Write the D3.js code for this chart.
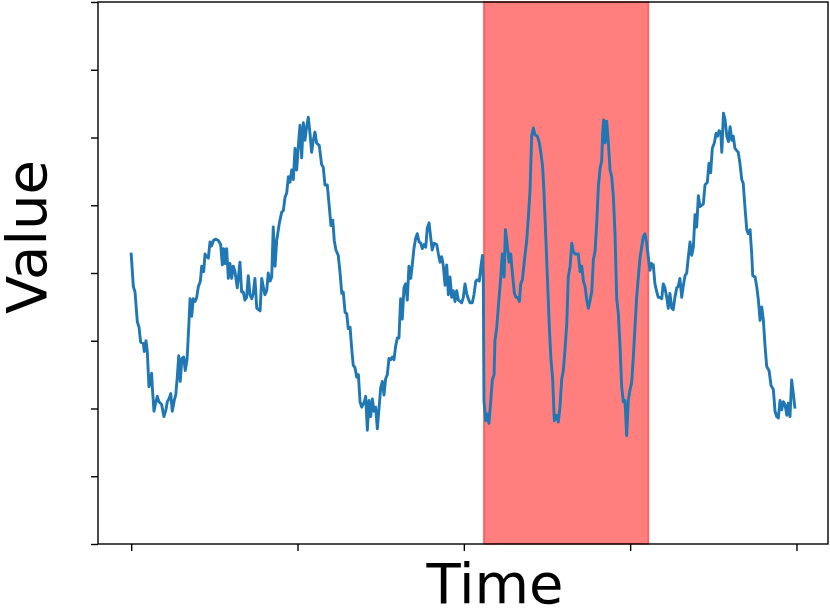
<!DOCTYPE html>
<html>
<head>
<meta charset="utf-8">
<script src="https://cdn.jsdelivr.net/npm/d3@7"></script>
<style>
  html, body { margin: 0; padding: 0; background: #fff; }
  svg { display: block; }
</style>
</head>
<body>
<svg id="chart" width="830" height="608"></svg>
<script>
// ---- Data ----
const xTicks = [0, 100, 200, 300, 400];
const yTicks = [-2, -1.5, -1, -0.5, 0, 0.5, 1, 1.5, 2];
const anomalySpan = [212, 311];
const xLabel = "Time";
const yLabel = "Value";

// [time, value]
const series = [
[0,0.14],[1.3,-0.10],[2.3,-0.14],[3.7,-0.36],[4.7,-0.40],[5.7,-0.51],[7.3,-0.52],[7.9,-0.58],[8.9,-0.50],[9.7,-0.58],
[10.7,-0.84],[12.3,-0.74],[12.7,-0.84],[13.7,-1.02],[14.7,-0.96],[15.7,-0.91],[16.7,-0.95],[18.3,-0.97],[19.7,-1.06],[20.9,-1.01],
[21.7,-0.95],[22.7,-0.93],[23.8,-0.89],[24.7,-1.02],[25.9,-0.94],[26.8,-0.90],[27.7,-0.77],[28.6,-0.61],[29.5,-0.80],[30.5,-0.63],
[31.6,-0.62],[32.5,-0.72],[33.6,-0.64],[34.6,-0.40],[35.4,-0.19],[36.4,-0.32],[37.3,-0.19],[38.4,-0.21],[39.4,-0.18],[40.4,-0.10],
[41.6,-0.06],[42.4,0.05],[43.6,0.01],[44.4,0.14],[45.4,0.12],[46.4,0.11],[47.4,0.23],[48.4,0.20],[49.4,0.24],[50.8,0.25],
[52.4,0.24],[53.8,0.21],[54.8,0.06],[55.6,0.18],[56.4,0.07],[57.4,0.18],[58.4,-0.04],[59.4,0.07],[60.4,-0.04],[61.4,0.05],
[62.4,0.01],[63.8,-0.11],[65.4,0.08],[66.4,-0.14],[67.4,-0.14],[68.4,-0.20],[69.4,-0.18],[70.4,-0.02],[71.4,-0.16],[72.5,-0.19],
[73.4,-0.15],[74.4,-0.04],[75.5,-0.26],[77.5,-0.28],[78.5,-0.04],[79.4,-0.10],[80.4,-0.16],[81.5,-0.13],[82.4,0.00],[83.5,-0.06],
[84.5,-0.03],[85.4,0.34],[86.5,0.05],[87.5,0.24],[89.1,0.37],[90.5,0.45],[91.5,0.46],[92.5,0.56],[93.5,0.59],[94.5,0.71],
[95.5,0.67],[96.5,0.76],[97.5,0.69],[98.5,0.92],[99.5,0.76],[100.5,0.94],[101.5,1.09],[102.5,0.85],[103.5,1.11],[104.5,0.98],
[105.5,1.08],[106.5,1.15],[107.5,1.03],[108.5,0.89],[109.5,0.98],[110.5,1.04],[111.5,0.96],[113.1,0.94],[114.5,0.80],[115.5,0.78],
[116.5,0.65],[117.9,0.65],[119.1,0.49],[120.1,0.35],[121.2,0.39],[122.1,0.24],[123.1,0.17],[124.5,0.13],[125.6,0.00],[126.6,-0.15],
[127.5,-0.14],[128.6,-0.29],[129.6,-0.30],[130.5,-0.41],[131.6,-0.40],[132.6,-0.56],[133.5,-0.68],[134.6,-0.70],[135.6,-0.77],[136.6,-0.75],
[137.6,-0.95],[138.6,-0.99],[140.2,-0.95],[141,-0.91],[142,-1.16],[143,-0.94],[144,-1.06],[145,-0.93],[146,-1.02],[147,-0.99],
[148,-1.15],[149,-1.00],[150,-0.85],[151,-0.80],[152,-0.90],[153,-0.78],[154,-0.75],[155,-0.63],[156,-0.64],[157,-0.62],
[158,-0.64],[159,-0.54],[160,-0.48],[161,-0.48],[162,-0.19],[163,-0.34],[164,-0.11],[165,-0.08],[166,-0.20],[167,0.05],
[168.1,-0.04],[169,0.06],[170,0.18],[171.1,0.26],[172,0.29],[173.1,0.23],[174.1,0.22],[175,0.18],[176.1,0.21],[177.1,0.19],
[178,0.33],[179.1,0.37],[180.1,0.26],[181,0.17],[182.1,0.22],[183.7,0.21],[184.7,0.14],[185.7,0.08],[186.7,0.12],[187.7,0.05],
[188.7,-0.09],[189.7,0.06],[190.7,-0.16],[191.7,-0.03],[192.7,-0.18],[193.7,-0.13],[194.7,-0.21],[195.7,-0.13],[196.7,-0.20],[197.7,-0.21],
[198.7,-0.22],[199.7,-0.18],[200.7,-0.08],[201.7,-0.15],[202.7,-0.19],[203.7,-0.22],[205.1,-0.22],[206.1,-0.16],[207.2,-0.06],[208.1,-0.05],
[209.3,-0.06],[210.3,0.05],[211.2,0.13],[211.7,-0.05],[212.1,-0.94],[213.1,-1.09],[214.1,-1.04],[215.1,-1.11],[216.2,-0.94],[217.1,-0.79],
[218.2,-0.75],[218.7,-0.50],[219.8,-0.40],[221.2,-0.18],[222.2,-0.03],[223.1,0.14],[224.2,-0.03],[225,0.32],[225.8,0.24],[227.2,0.08],
[228.2,0.14],[229.2,0.00],[230.4,-0.15],[231.4,-0.18],[232.4,-0.18],[233.4,-0.21],[234.2,-0.08],[235.2,-0.05],[236.2,0.07],[237.8,0.24],
[238.8,0.41],[239.8,0.61],[240.8,1.01],[241.8,1.07],[242.8,1.02],[244.2,1.01],[245.4,0.96],[246.4,0.88],[247.4,0.78],[248.2,0.59],
[249.2,0.29],[250.4,-0.08],[251.4,-0.40],[252.4,-0.64],[253.4,-0.78],[254.4,-1.09],[255.8,-1.05],[256.8,-1.10],[257.8,-0.99],[258.8,-0.79],
[259.8,-0.72],[260.8,-0.57],[261.9,-0.37],[262.8,-0.03],[263.9,0.05],[264.9,0.22],[265.8,0.16],[266.8,0.14],[268.8,0.14],[269.9,0.01],
[270.9,0.05],[271.9,-0.06],[272.9,-0.10],[273.9,-0.20],[274.9,-0.26],[275.9,-0.20],[276.9,-0.14],[277.9,0.10],[278.9,0.16],[279.9,0.37],
[280.9,0.64],[281.9,0.77],[282.9,0.83],[283.5,1.04],[284.1,1.13],[284.9,0.96],[285.9,1.12],[286.9,0.96],[287.9,0.76],[288.9,0.71],
[289.9,0.56],[290.9,0.29],[291.9,-0.19],[292.9,-0.30],[293.9,-0.54],[294.9,-0.84],[295.9,-0.95],[296.9,-0.94],[297.9,-1.20],[298.9,-0.94],
[299.9,-0.86],[300.9,-0.81],[301.9,-0.62],[302.9,-0.40],[303.9,-0.18],[304.9,-0.03],[305.9,0.11],[306.9,0.19],[307.9,0.27],[308.9,0.29],
[309.9,0.22],[310.9,0.12],[311.9,0.02],[312.9,0.07],[313.9,0.06],[314.9,-0.08],[316,-0.14],[316.9,-0.18],[317.9,-0.18],[319,-0.19],
[319.9,-0.08],[320.9,-0.11],[322,-0.18],[322.9,-0.26],[323.9,-0.15],[325,-0.26],[325.9,-0.27],[326.9,-0.18],[328,-0.11],[328.9,-0.10],
[329.9,-0.04],[331,-0.18],[332,-0.09],[333,-0.02],[334,0.00],[335,0.12],[336,0.23],[337,0.13],[338,0.19],[339,0.43],
[340,0.34],[341,0.57],[342,0.49],[344,0.51],[345,0.65],[346.4,0.67],[347.4,0.81],[348.4,0.74],[349.4,0.92],[350.6,0.96],
[351.6,1.03],[352.6,1.01],[353.4,1.05],[354.5,1.04],[355.1,0.89],[356.1,1.18],[357.1,1.13],[358.1,1.01],[359.1,0.97],[360.1,1.08],
[361.1,0.98],[362,1.01],[363,0.92],[365,0.89],[366,0.81],[367.1,0.69],[368,0.66],[369,0.49],[370.1,0.32],[371,0.29],
[372.1,0.32],[373.1,0.14],[373.7,-0.02],[375.1,-0.03],[376.1,-0.10],[377.1,-0.20],[378.1,-0.35],[379.1,-0.25],[380.1,-0.35],[381.1,-0.54],
[382.1,-0.69],[383.5,-0.72],[384.7,-0.83],[386.1,-0.86],[387.1,-1.02],[388.1,-1.06],[389.1,-1.07],[390.1,-0.94],[391.1,-1.01],[392.1,-0.95],
[393.1,-0.97],[394.2,-1.05],[395.1,-0.96],[396.1,-1.06],[397.1,-0.79],[398.1,-0.89],[399,-0.99]
];

// ---- Layout ----
const plot = { left: 98, right: 828, top: 2, bottom: 544 };
const svg = d3.select("#chart");

const x = d3.scaleLinear().domain([-19.95, 418.95]).range([plot.left, plot.right]);
const y = d3.scaleLinear().domain([-2, 2]).range([plot.bottom, plot.top]);

// anomaly span
svg.append("rect")
  .attr("x", x(anomalySpan[0]))
  .attr("y", plot.top)
  .attr("width", x(anomalySpan[1]) - x(anomalySpan[0]))
  .attr("height", plot.bottom - plot.top)
  .attr("fill", "red")
  .attr("fill-opacity", 0.5)
  .attr("stroke", "red")
  .attr("stroke-opacity", 0.5)
  .attr("stroke-width", 1.5);

// line
const line = d3.line().x(d => x(d[0])).y(d => y(d[1]));
svg.append("path")
  .datum(series)
  .attr("d", line)
  .attr("fill", "none")
  .attr("stroke", "#1f77b4")
  .attr("stroke-width", 2.9)
  .attr("stroke-linejoin", "round")
  .attr("stroke-linecap", "square");

// axes (ticks only, no labels)
const xAxis = svg.append("g")
  .attr("transform", `translate(0,${plot.bottom})`)
  .call(d3.axisBottom(x).tickValues(xTicks).tickFormat("").tickSize(7).tickSizeOuter(0));
const yAxis = svg.append("g")
  .attr("transform", `translate(${plot.left},0)`)
  .call(d3.axisLeft(y).tickValues(yTicks).tickFormat("").tickSize(7).tickSizeOuter(0));
[xAxis, yAxis].forEach(g => {
  g.select(".domain").remove();
  g.selectAll(".tick line").attr("stroke", "#000").attr("stroke-width", 1.4);
});

// spines
svg.append("rect")
  .attr("x", plot.left)
  .attr("y", plot.top)
  .attr("width", plot.right - plot.left)
  .attr("height", plot.bottom - plot.top)
  .attr("fill", "none")
  .attr("stroke", "#000")
  .attr("stroke-width", 1.4);

// axis labels
svg.append("text")
  .attr("x", 495)
  .attr("y", 603)
  .attr("text-anchor", "middle")
  .attr("font-family", "DejaVu Sans")
  .attr("font-size", 56)
  .attr("fill", "#000")
  .text(xLabel);

svg.append("text")
  .attr("transform", "translate(46,237) rotate(-90)")
  .attr("text-anchor", "middle")
  .attr("font-family", "DejaVu Sans")
  .attr("font-size", 56)
  .attr("fill", "#000")
  .text(yLabel);
</script>
</body>
</html>
